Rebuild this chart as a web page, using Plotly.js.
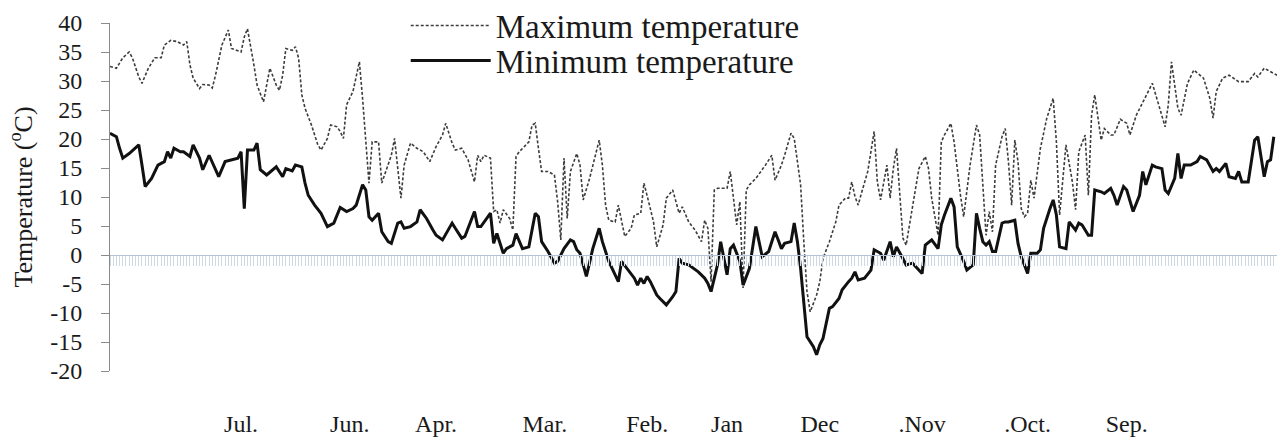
<!DOCTYPE html>
<html>
<head>
<meta charset="utf-8">
<script src="https://cdn.plot.ly/plotly-3.0.1.min.js"></script>
<style>html,body{margin:0;padding:0;background:#fff;}#chart{width:1277px;height:437px;}</style>
</head>
<body>
<div id="chart"></div>
<script>
// Day of record (0 = start of series) and daily temperatures (°C)
const maxDay = [0,2,4,6,7,9,10,12,14,16,17,19,21,23,24,25,26,28,29,31,32,33,35,37,38,41,42,43,45,46,48,49,50,52,53,54,55,57,58,59,60,61,63,65,66,68,69,71,72,73,74,76,77,78,79,80,81,82,84,85,87,88,89,91,92,94,96,98,100,102,104,105,107,108,110,112,114,115,116,117,119,120,121,122,123,125,126,127,128,130,131,132,133,134,135,137,139,140,141,142,143,144,146,147,148,150,152,153,154,155,156,158,159,160,161,163,164,166,167,169,170,171,173,174,176,178,179,181,183,185,186,187,188,189,190,193,194,196,197,198,199,200,202,205,207,208,210,211,213,214,216,217,218,219,221,222,223,225,227,228,230,231,232,233,234,235,237,239,240,241,243,244,245,246,247,248,249,251,253,255,256,257,259,260,261,263,264,266,267,269,271,272,273,274,275,276,277,279,280,281,282,283,284,285,286,287,288,289,291,293,295,296,297,298,299,301,302,303,305,306,307,308,310,311,313,314,316,318,319,321,323,326,328,330,331,332,334,335,337,339,342,344,345,346,348,350,353,356,358,359,361,363,365];
const maxTemp = [32.5,32.2,34,35,34,30.7,29.6,32.2,34,34,36.2,37,36.8,36.2,36.8,32.8,30.5,28.7,29.4,29.3,28.8,31,36.2,38.8,35.6,35,37.6,39,32.8,29.3,26.4,29.3,32.2,29.3,28.4,31,35.6,35.3,35.9,33.9,27.6,25.3,22.4,19,18.1,20.1,22.4,22.1,21.3,20.1,25.9,28.2,30.5,33.3,27,20.1,12.4,19.5,19.5,12.4,15.5,17.2,20.1,9.8,15.5,19.3,18.4,17.8,16.1,18.7,20.7,22.7,19.3,18.1,18.4,16.4,12.6,17.2,16.1,17.2,16.7,7.5,7.8,5.5,7.8,6.3,4.3,17,17.8,19,19.5,22.4,22.7,18.4,14.4,14.4,13.8,9.2,2.6,16.7,6.3,14.4,17.5,15.5,9.5,13.2,17.8,19.8,15.5,8.6,6,5.7,8.6,5.7,3.2,4.6,6.9,7.2,12.4,8,5.7,1.4,5.2,9.8,11.2,7.2,8.3,5.7,4.3,2.3,6,4.6,-4.6,11.2,11.5,11.5,14.4,5.2,9.2,-5.7,11.2,12.1,13.2,15.5,17.2,12.9,15.5,17.2,21,20.1,12.1,2.3,-6.3,-9.8,-6.9,-4.6,-0.6,2.3,5.7,8.6,9.8,9.8,12.6,10.1,8.6,10.6,14.4,21.3,12.6,9.5,15.5,9.8,14.9,18.4,10.3,2.9,1.7,8,14.9,17,14.9,9.8,3.4,19.5,20.7,22.7,19.5,10.3,6.6,15.5,22.4,20.7,12.1,3.4,7.5,4,15.5,20.4,21.8,16.1,8.6,19.8,16.1,8,6.6,7.2,12.9,9.8,18.4,23.6,27,19.5,6.9,12.6,19,12.6,7.8,17.8,20.7,10.3,24.1,27.6,19.8,21.8,20.7,20.7,23.4,22.7,20.7,24.1,26.4,29.6,25.9,22.1,25.9,33.3,25.3,24.1,29.6,31.9,30.5,27,23.6,28.2,30.5,31,29.9,29.9,31.3,30.7,32.2,31.6,31];

const minDay = [0,2,3,4,6,9,10,11,13,15,17,18,19,20,22,23,25,26,28,29,31,33,34,36,38,40,41,42,43,45,46,47,49,51,52,54,55,57,58,60,61,62,64,66,68,70,72,74,76,77,79,80,81,82,84,85,87,88,90,91,92,94,96,97,99,101,102,104,107,108,110,111,114,115,116,119,120,121,123,124,126,127,128,129,131,132,133,134,135,137,139,140,142,144,145,146,147,149,151,153,154,156,159,160,162,164,165,166,167,168,169,171,172,174,176,177,178,179,181,183,184,186,187,188,190,191,193,194,195,197,198,200,201,202,203,204,206,208,209,210,211,213,214,215,216,217,218,220,221,222,223,225,226,228,229,231,232,233,234,236,238,239,241,242,244,245,246,248,249,251,252,254,255,257,259,260,261,263,264,265,267,268,270,271,272,273,274,275,276,277,279,280,281,283,284,285,286,287,288,290,291,292,294,295,296,297,299,300,302,303,304,306,307,308,310,311,313,314,315,317,318,320,322,323,324,326,327,329,330,331,333,334,335,336,338,340,341,343,345,346,347,349,350,352,353,354,356,358,359,361,362,363,364];
const minTemp = [21,20.4,18.4,16.7,17.5,19,15.5,11.8,13.2,15.5,16.1,17.8,16.7,18.4,17.8,17.8,17,19,16.7,14.7,17.2,14.9,13.5,16.1,16.4,16.7,17.8,8,18.1,18.1,19.3,14.7,13.8,14.7,15.2,13.5,14.9,14.5,15.5,15.2,12.4,10.3,8.6,7.2,4.9,5.5,8.2,7.5,8,8.6,12.1,11.2,6.6,6,7.2,4,2.3,2,5.5,5.7,4.6,4.9,5.7,7.8,6.3,4.3,3.4,2.6,5.5,4.6,2.9,3.2,7.5,4.9,4.9,7.2,2,3.7,0.3,1.1,1.7,3.7,2.3,1.1,1.4,4.6,7.2,6.6,2.3,0.6,-1.4,-1.1,1.1,2.6,2.3,0.9,0.3,-3.7,1.1,4.6,2.3,-1.1,-4.6,-1.1,-2.6,-4,-5.2,-4,-4.9,-3.7,-4.6,-6.9,-7.5,-8.6,-7.2,-6.3,-0.6,-1.4,-1.7,-2.6,-2.9,-4,-4.9,-6.3,-1.7,2.3,-3.4,1.1,1.7,-1.1,-5.2,-2.3,1.1,4.9,2.3,-0.3,0.6,4,2.6,1.1,2,2.3,5.5,2.3,-2.3,-8,-14.1,-15.8,-17.2,-15.5,-14.4,-9.2,-8.9,-7.5,-6,-4.6,-4,-2.9,-4.3,-4,-2.6,0.9,0.3,-0.9,2.3,-0.3,1.4,-0.6,-1.7,-1.4,-2,-3.2,1.7,2.6,1.1,5.2,6.9,9.8,8.3,1.4,-1.1,-2.6,-1.7,7.2,4.6,2.3,1.7,2.3,0.6,0.6,5.5,5.7,5.7,6,2,-0.3,-1.7,-3.2,0.3,0.3,0.9,4.6,8,9.5,6.9,1.4,1.1,5.7,4.3,5.5,5.2,3.4,3.4,11.2,10.9,10.6,11.5,10.3,8.6,11.8,11.2,7.5,10.3,14.4,12.1,15.5,15.2,14.9,11.2,10.6,13.2,17.5,13.2,15.5,15.5,16.1,17,16.4,14.4,14.9,14.4,15.8,13.5,13.2,14.4,12.6,12.6,19.8,20.4,13.5,16.1,16.4,20.4];

// Month labels and the day they sit at
const monthLabels = ['Jul.','Jun.','Apr.','Mar.','Feb.','Jan','Dec','.Nov','.Oct.','Sep.'];
const monthDays   = [41, 75, 102, 136, 168, 193, 222, 254, 287, 318];

// Temperature axis
const yRange = [-20, 40];
const yTickVals = [-20,-15,-10,-5,0,5,10,15,20,25,30,35,40];
const yTickText = yTickVals.map(v => String(v));
const dayRange = [0, 365];

const serifFamily = 'Liberation Serif';
const ink = '#1a1a1a';

const traces = [
  {x: maxDay, y: maxTemp, type: 'scatter', mode: 'lines', name: 'Maximum temperature',
   legend: 'legend', line: {color: '#3c3c3c', width: 1.6, dash: '3px,2px'}},
  {x: minDay, y: minTemp, type: 'scatter', mode: 'lines', name: 'Minimum temperature',
   legend: 'legend2', line: {color: '#111111', width: 3}}
];

function legendStyle(x, y) {
  return {x: x, y: y, xanchor: 'left', yanchor: 'middle', bgcolor: 'rgba(0,0,0,0)',
          font: {family: serifFamily, size: 33, color: ink}, itemwidth: 80};
}

const layout = {
  width: 1277, height: 437,
  margin: {l: 110, r: 0, t: 23, b: 66, pad: 0, autoexpand: false},
  paper_bgcolor: '#ffffff', plot_bgcolor: '#ffffff',
  font: {family: serifFamily, color: ink, size: 24},
  showlegend: true,
  legend: legendStyle(0.2534, 0.9928),
  legend2: legendStyle(0.2534, 0.8922),
  xaxis: {
    range: dayRange, anchor: 'free', position: (0 - yRange[0]) / (yRange[1] - yRange[0]),
    showline: true, linecolor: '#b4c4d4', linewidth: 1,
    ticks: 'outside', ticklen: 10, tickwidth: 1, tickcolor: '#cfd9e3',
    tickmode: 'array', tickvals: monthDays, ticktext: monthLabels,
    ticklabelstandoff: 137, tickfont: {family: serifFamily, size: 24, color: ink},
    showgrid: false, zeroline: false, automargin: false,
    minor: {ticks: 'outside', ticklen: 10, tickwidth: 1, tickcolor: '#cfd9e3',
            tickmode: 'linear', tick0: 0, dtick: 1, showgrid: false}
  },
  yaxis: {
    range: yRange, tickmode: 'array', tickvals: yTickVals, ticktext: yTickText,
    showline: true, linecolor: '#8a8a8a', linewidth: 1,
    ticks: 'outside', ticklen: 8, tickcolor: '#8a8a8a',
    ticklabelstandoff: 14, tickfont: {family: serifFamily, size: 24, color: ink},
    showgrid: false, zeroline: false, automargin: false,
    title: {text: 'Temperature (<sup>o</sup>C)', font: {family: serifFamily, size: 26, color: ink}, standoff: 10}
  }
};

Plotly.newPlot('chart', traces, layout, {displayModeBar: false, staticPlot: true});
</script>
</body>
</html>
